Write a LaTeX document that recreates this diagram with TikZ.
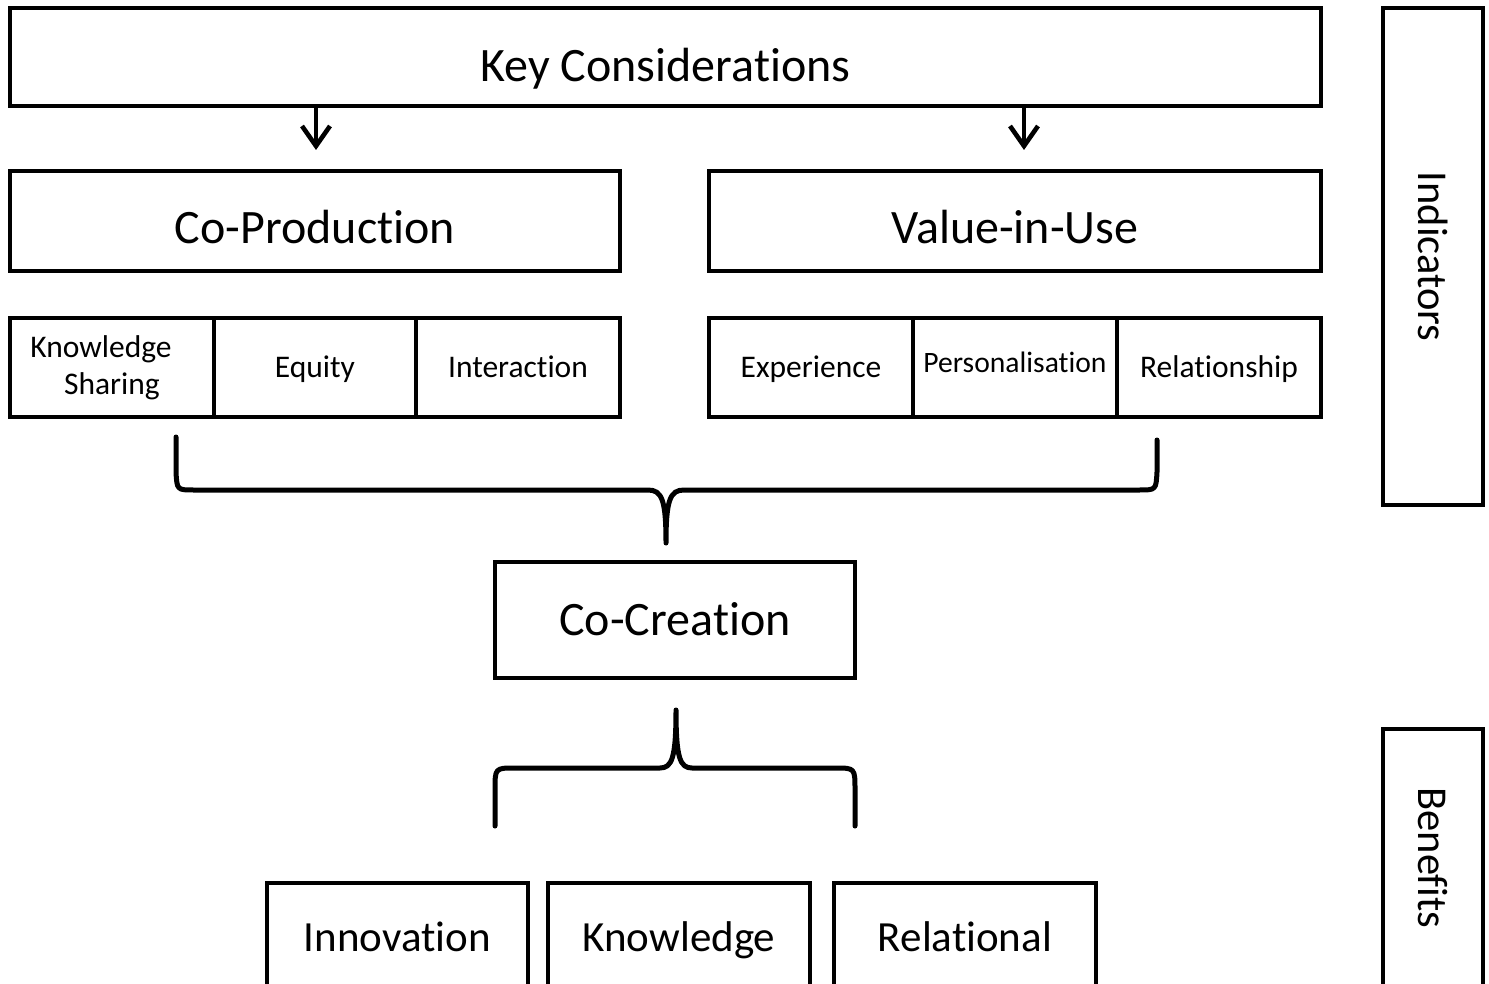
\documentclass[tikz,border=0pt]{standalone}
\usepackage{fontspec}
\setmainfont{Carlito}[Ligatures=NoCommon]
\usetikzlibrary{arrows.meta}
\begin{document}
\begin{tikzpicture}[x=1pt,y=-1pt,
  box/.style={draw=black,line width=4.6pt,rectangle,inner sep=0pt,outer sep=0pt,align=center},
  bigtxt/.style={font=\fontsize{48}{56}\selectfont,text height=30.9pt,text depth=0pt},
  subtxt/.style={font=\fontsize{31.5}{37}\selectfont,text height=20.3pt,text depth=0pt},
  twotxt/.style={font=\fontsize{31.5}{37}\selectfont},
  smalltxt/.style={font=\fontsize{29.6}{35}\selectfont,text height=19pt,text depth=0pt},
  bottxt/.style={font=\fontsize{43}{50}\selectfont,text height=27.7pt,text depth=0pt},
  sidetxt/.style={font=\fontsize{42.5}{49}\selectfont},
  arr/.style={line width=4.6pt,-{Straight Barb[length=20pt,width=28pt,line width=4.6pt]}},
  brace/.style={line width=5pt,line cap=round,line join=round}]
\useasboundingbox (0,0) rectangle (1489,984);
\clip (0,0) rectangle (1489,984);

% top row
\node[box,bigtxt,minimum width=1311,minimum height=98] (key) at (665.5,57) {\raisebox{-9pt}{Key Considerations}};
\node[box,bigtxt,minimum width=610,minimum height=100] (cop) at (315,221) {\raisebox{-7pt}{Co-Production}};
\node[box,bigtxt,minimum width=612,minimum height=100] (viu) at (1015,221) {\raisebox{-7pt}{Value-in-Use}};

% sub row left
\node[box,twotxt,minimum width=204,minimum height=99] (ks) at (112,367.5) {Knowledge\hspace*{22pt}\\Sharing};
\node[box,subtxt,minimum width=202,minimum height=99] (eq) at (315,367.5) {Equity};
\node[box,subtxt,minimum width=204,minimum height=99] (int) at (518,367.5) {Interaction};
% sub row right
\node[box,subtxt,minimum width=204,minimum height=99] (exp) at (811,367.5) {Experience};
\node[box,smalltxt,minimum width=204,minimum height=99] (per) at (1015,367.5) {\raisebox{4.5pt}{Personalisation}};
\node[box,subtxt,minimum width=204,minimum height=99] (rel) at (1219,367.5) {Relationship};

% side boxes
\node[box,minimum width=100,minimum height=497] (ind) at (1433,256.5) {};
\node[sidetxt,rotate=-90] at (ind.center) {Indicators};
\node[box,minimum width=100,minimum height=258] (ben) at (1433,858) {};
\node[sidetxt,rotate=-90] at (ben.center) {Benefits};

% co-creation
\node[box,bigtxt,minimum width=360,minimum height=116] (coc) at (675,620) {Co-Creation};

% benefits row
\node[box,bottxt,minimum width=261,minimum height=104] (inn) at (397.5,935) {\raisebox{-3pt}{Innovation}};
\node[box,bottxt,minimum width=262,minimum height=104] (kno) at (679,935) {\raisebox{-3pt}{Knowledge}};
\node[box,bottxt,minimum width=262,minimum height=104] (rln) at (965,935) {\raisebox{-3pt}{Relational}};

% arrows
\draw[arr] (key.south -| 316,0) -- (316,150);
\draw[arr] (key.south -| 1024,0) -- (1024,150);

% brace 1
\coordinate (b1l) at (176,437);
\coordinate (b1r) at (1157,440);
\coordinate (b1t) at (666,543);
\draw[brace] (b1l) -- (176,472) .. controls (177,490) .. (194,490) -- (648,490)
  .. controls (662,490) and (666,500) .. (b1t)
  .. controls (666,500) and (670,490) .. (684,490) -- (1139,490)
  .. controls (1156,490) .. (1157,472) -- (b1r);

% brace 2
\coordinate (b2l) at (495,826);
\coordinate (b2r) at (855,826);
\coordinate (b2t) at (676,710);
\draw[brace] (b2l) -- (495,790) .. controls (495,768) .. (515,768) -- (660,768)
  .. controls (672,768) and (676,758) .. (b2t)
  .. controls (676,758) and (680,768) .. (692,768) -- (835,768)
  .. controls (855,768) .. (855,790) -- (b2r);
\end{tikzpicture}
\end{document}
